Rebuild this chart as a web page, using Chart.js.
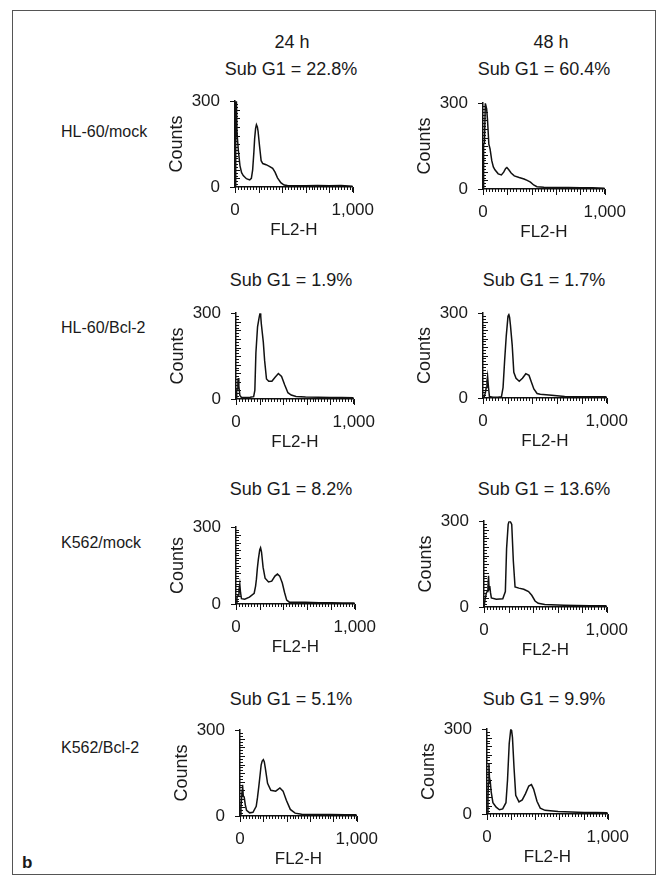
<!DOCTYPE html>
<html>
<head>
<meta charset="utf-8">
<title>Sub G1 histograms</title>
<script src="https://cdn.jsdelivr.net/npm/chart.js@4.4.1/dist/chart.umd.min.js"></script>
<style>
  body { margin: 0; background: #fff; }
  #fig { position: relative; width: 671px; height: 887px; background: #fff; overflow: hidden;
         font-family: 'Liberation Sans', Arial, Helvetica, sans-serif; color: #1a1a1a; }
  #frame { position: absolute; left: 12px; top: 10px; width: 644px; height: 865px; border: 1px solid #555; box-sizing: border-box; }
  .lbl { position: absolute; white-space: nowrap; line-height: 1; transform: translate(-50%, -50%); font-size: 18px; }
  .row { position: absolute; white-space: nowrap; line-height: 1; transform: translateY(-50%); font-size: 16px; }
  canvas { position: absolute; }
</style>
</head>
<body>
<div id="fig"><div id="frame"></div></div>
<script>
// ---- data ----
const columnHeads = ['24 h', '48 h'];
const rowNames = ['HL-60/mock', 'HL-60/Bcl-2', 'K562/mock', 'K562/Bcl-2'];
const subG1 = ['22.8', '60.4', '1.9', '1.7', '8.2', '13.6', '5.1', '9.9'];
const xTickLabels = [0, 1000];
const yTickLabels = [0, 300];

// FL2-H channel / counts, one pair per panel
const hlMock24Ch  = [0, 4, 8, 12, 17, 28, 42, 56, 70, 97, 125, 139, 150, 160, 167, 175, 182, 190, 196, 208, 222, 236, 264, 292, 320, 340, 361, 389, 417, 445, 500, 600, 700, 800, 900, 1000];
const hlMock24Cnt = [0, 150, 300, 300, 190, 130, 75, 50, 40, 29, 25, 30, 60, 120, 170, 205, 218, 210, 195, 145, 92, 82, 78, 72, 65, 52, 32, 15, 7, 5, 4, 4, 5, 4, 5, 3];

const hlMock48Ch  = [0, 5, 12, 19, 24, 30, 37, 48, 58, 72, 85, 98, 125, 151, 170, 186, 196, 212, 231, 257, 297, 337, 363, 390, 416, 443, 500, 600, 700, 800, 900, 1000];
const hlMock48Cnt = [0, 157, 160, 300, 300, 280, 242, 157, 140, 99, 77, 67, 53, 49, 59, 72, 75, 67, 56, 46, 40, 35, 30, 24, 14, 8, 6, 5, 5, 4, 4, 3];

const hlBcl24Ch  = [0, 6, 11, 16, 19, 24, 33, 45, 80, 120, 150, 160, 169, 183, 196, 204, 210, 215, 232, 243, 259, 278, 305, 332, 360, 387, 414, 441, 469, 510, 591, 700, 800, 900, 1000];
const hlBcl24Cnt = [0, 30, 36, 60, 73, 45, 12, 6, 5, 6, 8, 30, 161, 252, 284, 300, 290, 263, 199, 135, 70, 62, 62, 76, 89, 79, 49, 22, 14, 9, 7, 6, 5, 5, 4];

const hlBcl48Ch  = [0, 10, 20, 26, 32, 37, 44, 52, 80, 120, 149, 162, 175, 188, 202, 209, 215, 222, 236, 249, 267, 293, 319, 346, 372, 393, 411, 437, 463, 555, 660, 800, 900, 1000];
const hlBcl48Cnt = [0, 5, 20, 37, 60, 77, 40, 5, 3, 3, 4, 37, 134, 220, 289, 295, 285, 257, 187, 91, 70, 59, 70, 86, 80, 54, 32, 16, 13, 10, 5, 4, 4, 4];

const kMock24Ch  = [0, 8, 14, 19, 25, 32, 38, 46, 73, 113, 153, 165, 172, 180, 188, 200, 207, 215, 228, 245, 274, 301, 328, 349, 368, 390, 409, 427, 449, 583, 700, 800, 900, 1000];
const kMock24Cnt = [0, 25, 30, 35, 55, 77, 45, 21, 19, 27, 42, 70, 97, 140, 173, 212, 220, 203, 144, 101, 86, 89, 109, 117, 109, 82, 45, 15, 7, 7, 5, 5, 4, 4];

const kMock48Ch  = [0, 10, 20, 26, 32, 37, 42, 47, 53, 60, 100, 153, 174, 184, 197, 205, 213, 226, 239, 253, 284, 324, 363, 389, 416, 442, 495, 653, 750, 863, 1000];
const kMock48Cnt = [0, 30, 50, 54, 70, 109, 60, 73, 50, 32, 27, 29, 54, 204, 289, 300, 300, 289, 161, 70, 66, 62, 54, 41, 21, 13, 9, 6, 5, 4, 4];

const kBcl24Ch  = [0, 8, 14, 18, 22, 28, 36, 45, 56, 83, 111, 139, 150, 161, 171, 181, 190, 200, 208, 217, 236, 264, 306, 342, 369, 397, 431, 472, 528, 650, 778, 900, 1000];
const kBcl24Cnt = [0, 30, 61, 90, 109, 70, 66, 40, 20, 11, 13, 34, 65, 103, 140, 178, 192, 197, 190, 167, 114, 90, 87, 98, 87, 55, 23, 10, 6, 5, 5, 4, 4];

const kBcl48Ch  = [0, 8, 12, 16, 20, 27, 35, 49, 76, 103, 130, 157, 170, 184, 197, 204, 211, 224, 238, 265, 292, 319, 346, 368, 386, 414, 441, 481, 589, 700, 805, 900, 1000];
const kBcl48Cnt = [0, 60, 110, 179, 130, 115, 77, 40, 24, 15, 18, 40, 120, 249, 300, 295, 270, 163, 66, 43, 50, 72, 99, 104, 88, 45, 21, 13, 9, 7, 5, 5, 4];

const series = [
  [hlMock24Ch, hlMock24Cnt], [hlMock48Ch, hlMock48Cnt],
  [hlBcl24Ch, hlBcl24Cnt],   [hlBcl48Ch, hlBcl48Cnt],
  [kMock24Ch, kMock24Cnt],   [kMock48Ch, kMock48Cnt],
  [kBcl24Ch, kBcl24Cnt],     [kBcl48Ch, kBcl48Cnt]
];

// ---- layout (plot area of each panel, page pixels) ----
const plots = [
  {x: 235, y: 93,  w: 121, h: 94}, {x: 483, y: 95,  w: 125, h: 94},
  {x: 236, y: 305, w: 121, h: 94}, {x: 483, y: 305, w: 127, h: 93},
  {x: 236, y: 519, w: 122, h: 85}, {x: 484, y: 513, w: 126, h: 94},
  {x: 240, y: 722, w: 120, h: 94}, {x: 487, y: 721, w: 124, h: 93}
];
const headX = [292, 551];
const subX = [291, 544];
const subY = [69, 280, 489, 699];
const rowY = [132, 328, 543, 748];

const Y_BOX = 73, X_BOX = 58, PAD_T = 12, PAD_R = 26;
const FONT = "'Liberation Sans', Arial, Helvetica, sans-serif";
const INK = '#1a1a1a';
Chart.defaults.font.family = FONT;
Chart.defaults.color = INK;

const fig = document.getElementById('fig');
function addText(cls, text, x, y, extra) {
  const d = document.createElement('div');
  d.className = cls;
  d.textContent = text;
  d.style.left = x + 'px';
  d.style.top = y + 'px';
  if (extra) Object.assign(d.style, extra);
  fig.appendChild(d);
}

columnHeads.forEach((t, i) => addText('lbl', t, headX[i], 42));
rowNames.forEach((t, i) => addText('row', t, 61, rowY[i]));
subG1.forEach((v, i) => addText('lbl', 'Sub G1 = ' + v + '%', subX[i % 2], subY[Math.floor(i / 2)]));
addText('row', 'b', 22, 862, {fontWeight: 'bold', fontSize: '17px'});

// small tick marks: ladder inside the y axis, short ticks below the x axis
const minorTicks = {
  id: 'minorTicks',
  afterDatasetsDraw(chart) {
    const ctx = chart.ctx;
    const xs = chart.scales.x, ys = chart.scales.y;
    const area = chart.chartArea;
    ctx.save();
    ctx.strokeStyle = '#111';
    ctx.lineWidth = 1;
    ctx.beginPath();
    for (let v = 0; v <= 1000; v += 25) {
      const px = Math.round(xs.getPixelForValue(v)) + 0.5;
      const len = v % 200 === 0 ? 6 : 3;
      ctx.moveTo(px, area.bottom);
      ctx.lineTo(px, area.bottom + len);
    }
    for (let v = 10; v < 300; v += 10) {
      const py = Math.round(ys.getPixelForValue(v)) + 0.5;
      ctx.moveTo(area.left, py);
      ctx.lineTo(area.left + (v % 30 === 0 ? 5 : 3), py);
    }
    ctx.stroke();
    ctx.restore();
  }
};
Chart.register(minorTicks);

series.forEach(([ch, cnt], i) => {
  const p = plots[i];
  const cv = document.createElement('canvas');
  cv.width = Y_BOX + p.w + PAD_R;
  cv.height = PAD_T + p.h + X_BOX;
  cv.style.left = (p.x - Y_BOX) + 'px';
  cv.style.top = (p.y - PAD_T) + 'px';
  fig.appendChild(cv);

  new Chart(cv, {
    type: 'line',
    data: {
      datasets: [{
        data: ch.map((c, k) => ({x: c, y: cnt[k]})),
        borderColor: '#111',
        borderWidth: 1.5,
        pointRadius: 0,
        tension: 0,
        fill: false
      }]
    },
    options: {
      responsive: false,
      animation: false,
      events: [],
      layout: {padding: {top: PAD_T, right: PAD_R, left: 0, bottom: 0}},
      plugins: {legend: {display: false}, tooltip: {enabled: false}},
      scales: {
        x: {
          type: 'linear', min: 0, max: 1000,
          afterBuildTicks: s => { s.ticks = xTickLabels.map(v => ({value: v})); },
          afterFit: s => { s.height = X_BOX; },
          ticks: {
            autoSkip: false, maxRotation: 0, padding: 8, color: INK,
            font: {size: 17},
            callback: v => v.toLocaleString('en-US')
          },
          grid: {drawOnChartArea: false, drawTicks: true, tickLength: 5, color: '#111', lineWidth: 1},
          border: {display: true, color: '#111', width: 1.5},
          title: {display: true, text: 'FL2-H', color: INK, font: {size: 17}, padding: {top: 0, bottom: 4}}
        },
        y: {
          type: 'linear', min: 0, max: 300,
          afterBuildTicks: s => { s.ticks = yTickLabels.map(v => ({value: v})); },
          afterFit: s => { s.width = Y_BOX; },
          ticks: {padding: 10, color: INK, font: {size: 17}},
          grid: {drawOnChartArea: false, drawTicks: true, tickLength: 5, color: '#111', lineWidth: 1},
          border: {display: true, color: '#111', width: 1.5},
          title: {display: true, text: 'Counts', color: INK, font: {size: 18}, padding: {top: 4, bottom: 0}}
        }
      }
    }
  });
});
</script>
</body>
</html>
